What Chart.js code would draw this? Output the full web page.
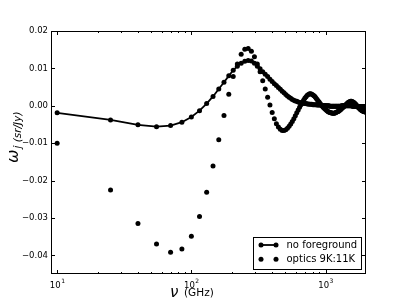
<!DOCTYPE html>
<html>
<head>
<meta charset="utf-8">
<script src="https://cdn.jsdelivr.net/npm/chart.js@4.4.1/dist/chart.umd.min.js"></script>
<style>
  html, body { margin: 0; padding: 0; background: #fff; }
  canvas { display: block; }
</style>
</head>
<body>
<canvas id="graficoPesos" width="407" height="305"></canvas>
<script>
// frequências (GHz)
const frequencias = [
  10, 25, 40, 55, 70, 85, 100, 115, 130, 145,
  160, 175, 190, 205, 220, 235, 250, 265, 280, 295,
  310, 325, 340, 355, 370, 385, 400, 415, 430, 445,
  460, 475, 490, 505, 520, 535, 550, 565, 580, 595,
  610, 625, 640, 655, 670, 685, 700, 715, 730, 745,
  760, 775, 790, 805, 820, 835, 850, 865, 880, 895,
  910, 925, 940, 955, 970, 985, 1000, 1015, 1030, 1045,
  1060, 1075, 1090, 1105, 1120, 1135, 1150, 1165, 1180, 1195,
  1210, 1225, 1240, 1255, 1270, 1285, 1300, 1315, 1330, 1345,
  1360, 1375, 1390, 1405, 1420, 1435, 1450, 1465, 1480, 1495,
  1510, 1525, 1540, 1555, 1570, 1585, 1600, 1615, 1630, 1645,
  1660, 1675, 1690, 1705, 1720, 1735, 1750, 1765, 1780, 1795,
  1810, 1825, 1840, 1855, 1870, 1885, 1900, 1915, 1930, 1945,
  1960, 1975, 1990
];

// no foreground
const semForeground = [
  -0.0019, -0.0038, -0.0051, -0.0056, -0.0053, -0.0044, -0.0030, -0.0013, 0.0006, 0.0025,
  0.0045, 0.0063, 0.0080, 0.0095, 0.0106, 0.0114, 0.0119, 0.0121, 0.0120, 0.0114,
  0.0106, 0.0099, 0.0091, 0.0084, 0.0078, 0.0071, 0.0065, 0.0059, 0.0054, 0.0049,
  0.0044, 0.0039, 0.0035, 0.0030, 0.0026, 0.0023, 0.0020, 0.0017, 0.0015, 0.0013,
  0.0012, 0.0010, 0.0009, 0.0008, 0.0007, 0.0007, 0.0006, 0.0006, 0.0005, 0.0005,
  0.0004, 0.0004, 0.0004, 0.0003, 0.0003, 0.0003, 0.0003, 0.0002, 0.0002, 0.0002,
  0.0002, 0.0002, 0.0001, 0.0001, 0.0001, 0.0001, 0.0001, 0.0000, 0.0000, 0.0000,
  0.0000, -0.0001, -0.0001, -0.0001, -0.0001, -0.0001, -0.0001, -0.0001, -0.0001, -0.0001,
  -0.0001, -0.0001, -0.0001, -0.0001, -0.0001, -0.0001, -0.0001, 0.0000, 0.0000, 0.0000,
  0.0000, 0.0000, 0.0000, 0.0000, 0.0000, 0.0000, 0.0000, 0.0000, 0.0000, 0.0000,
  0.0000, 0.0000, 0.0000, 0.0000, 0.0000, -0.0001, -0.0001, -0.0001, -0.0001, -0.0001,
  -0.0001, -0.0001, -0.0001, -0.0001, -0.0001, -0.0002, -0.0002, -0.0002, -0.0002, -0.0002,
  -0.0002, -0.0002, -0.0002, -0.0002, -0.0002, -0.0002, -0.0002, -0.0002, -0.0002, -0.0002,
  -0.0002, -0.0002, -0.0002
];

// optics 9K:11K
const optica = [
  -0.0100, -0.0225, -0.0315, -0.0370, -0.0392, -0.0383, -0.0349, -0.0296, -0.0231, -0.0161,
  -0.0091, -0.0026, 0.0031, 0.0078, 0.0112, 0.0138, 0.0151, 0.0153, 0.0146, 0.0131,
  0.0112, 0.0091, 0.0067, 0.0045, 0.0023, 0.0002, -0.0018, -0.0035, -0.0048, -0.0057,
  -0.0063, -0.0066, -0.0066, -0.0064, -0.0060, -0.0055, -0.0049, -0.0042, -0.0035, -0.0027,
  -0.0019, -0.0011, -0.0004, 0.0003, 0.0009, 0.0015, 0.0020, 0.0024, 0.0028, 0.0030,
  0.0032, 0.0032, 0.0031, 0.0029, 0.0027, 0.0024, 0.0020, 0.0017, 0.0013, 0.0010,
  0.0006, 0.0003, 0.0000, -0.0003, -0.0005, -0.0008, -0.0010, -0.0012, -0.0014, -0.0016,
  -0.0017, -0.0018, -0.0019, -0.0019, -0.0020, -0.0020, -0.0020, -0.0020, -0.0019, -0.0018,
  -0.0017, -0.0016, -0.0015, -0.0014, -0.0012, -0.0011, -0.0009, -0.0007, -0.0006, -0.0004,
  -0.0003, -0.0001, 0.0000, 0.0002, 0.0003, 0.0005, 0.0006, 0.0008, 0.0009, 0.0010,
  0.0011, 0.0011, 0.0012, 0.0012, 0.0011, 0.0011, 0.0010, 0.0009, 0.0008, 0.0007,
  0.0005, 0.0004, 0.0002, 0.0001, -0.0001, -0.0002, -0.0004, -0.0005, -0.0006, -0.0008,
  -0.0009, -0.0010, -0.0011, -0.0012, -0.0013, -0.0013, -0.0014, -0.0015, -0.0015, -0.0016,
  -0.0016, -0.0017, -0.0017
];

const ticksY = [-0.04, -0.03, -0.02, -0.01, 0.00, 0.01, 0.02];
const ticksXMaiores = [10, 100, 1000];
const expoentesX = ["1", "2", "3"];
const ticksXMenores = [20, 30, 40, 50, 60, 70, 80, 90, 200, 300, 400, 500, 600, 700, 800, 900];
const legendas = ["no foreground", "optics 9K:11K"];

const fonte = "'DejaVu Sans', sans-serif";
const raioPonto = 2.5;

// eixos, ticks, rótulos e legenda no estilo matplotlib
const moldura = {
  id: "moldura",
  afterDatasetsDraw(chart) {
    const { ctx, chartArea: a, scales } = chart;
    const x = scales.x;
    const y = scales.y;
    ctx.save();
    ctx.strokeStyle = "#000";
    ctx.fillStyle = "#000";
    ctx.lineWidth = 1;

    ctx.beginPath();
    ticksXMaiores.forEach((v) => {
      const px = Math.round(x.getPixelForValue(v)) + 0.5;
      ctx.moveTo(px, a.bottom); ctx.lineTo(px, a.bottom - 4);
      ctx.moveTo(px, a.top); ctx.lineTo(px, a.top + 4);
    });
    ticksXMenores.forEach((v) => {
      const px = Math.round(x.getPixelForValue(v)) + 0.5;
      ctx.moveTo(px, a.bottom); ctx.lineTo(px, a.bottom - 2);
      ctx.moveTo(px, a.top); ctx.lineTo(px, a.top + 2);
    });
    ticksY.forEach((v) => {
      const py = Math.round(y.getPixelForValue(v)) + 0.5;
      ctx.moveTo(a.left, py); ctx.lineTo(a.left + 4, py);
      ctx.moveTo(a.right, py); ctx.lineTo(a.right - 4, py);
    });
    ctx.stroke();

    ctx.strokeRect(a.left + 0.5, a.top + 0.5, a.right - a.left - 1, a.bottom - a.top - 1);

    // rótulos do eixo y
    ctx.font = "8.5px " + fonte;
    ctx.textAlign = "right";
    ctx.textBaseline = "middle";
    ticksY.forEach((v) => {
      const txt = (v < 0 ? "\u2212" : "") + Math.abs(v).toFixed(2);
      ctx.fillText(txt, a.left - 3, y.getPixelForValue(v));
    });

    // rótulos do eixo x (10^n)
    ctx.textBaseline = "alphabetic";
    ticksXMaiores.forEach((v, i) => {
      const px = x.getPixelForValue(v);
      ctx.font = "8.5px " + fonte;
      const w1 = ctx.measureText("10").width;
      ctx.font = "6px " + fonte;
      const w2 = ctx.measureText(expoentesX[i]).width;
      const x0 = px - (w1 + w2) / 2;
      ctx.textAlign = "left";
      ctx.font = "8.5px " + fonte;
      ctx.fillText("10", x0, a.bottom + 14);
      ctx.font = "6px " + fonte;
      ctx.fillText(expoentesX[i], x0 + w1 + 0.5, a.bottom + 9);
    });

    // título do eixo x
    ctx.textAlign = "left";
    ctx.font = "oblique 15px " + fonte;
    ctx.fillText("\u03bd", 170, 297);
    ctx.font = "10.5px " + fonte;
    ctx.fillText("(GHz)", 184, 296);

    // título do eixo y
    ctx.save();
    ctx.translate(18, 163);
    ctx.rotate(-Math.PI / 2);
    ctx.font = "oblique 16px " + fonte;
    ctx.fillText("\u03c9", 0, 0);
    const wOmega = ctx.measureText("\u03c9").width;
    ctx.font = "oblique 10.5px " + fonte;
    ctx.fillText("j (sr/Jy)", wOmega + 1, 3);
    ctx.restore();

    // legenda
    const lx = 253.5, ly = 237.5, lw = 108, lh = 32;
    ctx.fillStyle = "#fff";
    ctx.fillRect(lx, ly, lw, lh);
    ctx.strokeRect(lx, ly, lw, lh);
    ctx.fillStyle = "#000";
    const linhas = [245, 259.3];
    ctx.lineWidth = 1.8;
    ctx.beginPath();
    ctx.moveTo(261, linhas[0]); ctx.lineTo(276, linhas[0]);
    ctx.stroke();
    linhas.forEach((ly2) => {
      [261, 276].forEach((mx) => {
        ctx.beginPath();
        ctx.arc(mx, ly2, raioPonto, 0, Math.PI * 2);
        ctx.fill();
      });
    });
    ctx.font = "10px " + fonte;
    ctx.textAlign = "left";
    ctx.textBaseline = "middle";
    legendas.forEach((t, i) => ctx.fillText(t, 286.5, linhas[i] + 0.5));

    ctx.restore();
  }
};

const ctx = document.getElementById("graficoPesos").getContext("2d");
const grafico = new Chart(ctx, {
  type: "line",
  data: {
    datasets: [
      {
        label: legendas[0],
        data: frequencias.map((f, i) => ({ x: f, y: semForeground[i] })),
        borderColor: "#000",
        backgroundColor: "#000",
        borderWidth: 1.8,
        pointRadius: raioPonto,
        pointBorderWidth: 0,
        pointBackgroundColor: "#000",
        tension: 0,
        showLine: true,
      },
      {
        label: legendas[1],
        data: frequencias.map((f, i) => ({ x: f, y: optica[i] })),
        borderColor: "#000",
        backgroundColor: "#000",
        pointRadius: raioPonto,
        pointBorderWidth: 0,
        pointBackgroundColor: "#000",
        showLine: false,
      },
    ],
  },
  options: {
    responsive: false,
    animation: false,
    devicePixelRatio: 1,
    layout: { padding: { left: 51, top: 31, right: 41, bottom: 31 } },
    plugins: {
      legend: { display: false },
      tooltip: { enabled: false },
    },
    scales: {
      x: { type: "logarithmic", min: 9, max: 2000, display: false },
      y: { type: "linear", min: -0.045, max: 0.02, display: false },
    },
  },
  plugins: [moldura],
});
</script>
</body>
</html>
